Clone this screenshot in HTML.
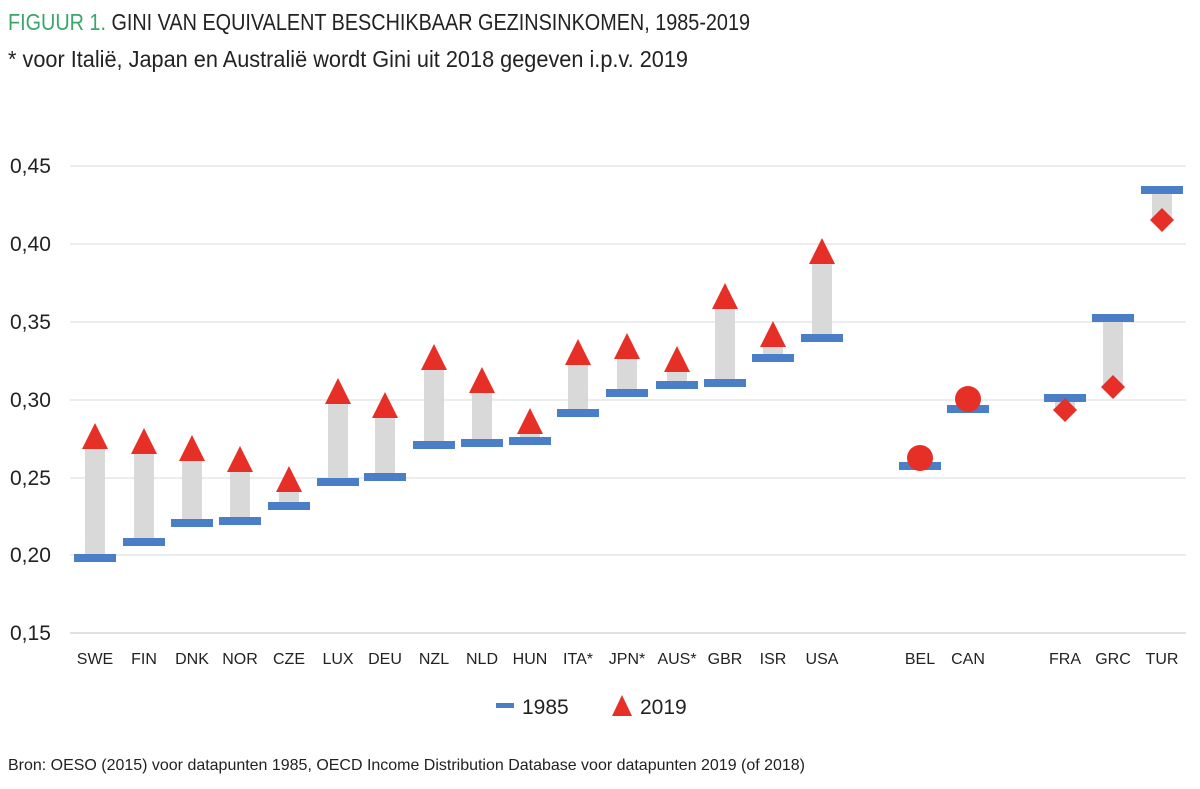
<!DOCTYPE html>
<html><head><meta charset="utf-8"><style>
body{margin:0;background:#fff;}
text{font-family:"Liberation Sans Narrow","Liberation Sans",sans-serif;}
</style></head><body>
<svg width="1200" height="784" xmlns="http://www.w3.org/2000/svg">
<text x="8" y="30" font-size="23" fill="#222" textLength="742" lengthAdjust="spacingAndGlyphs"><tspan fill="#3aa66b">FIGUUR 1.</tspan> GINI VAN EQUIVALENT BESCHIKBAAR GEZINSINKOMEN, 1985-2019</text>
<text x="8" y="67" font-size="23" fill="#222" textLength="680" lengthAdjust="spacingAndGlyphs">* voor Italië, Japan en Australië wordt Gini uit 2018 gegeven i.p.v. 2019</text>
<g stroke="#d9d9d9" stroke-width="1">
<line x1="70" x2="1186" y1="166" y2="166"/><line x1="70" x2="1186" y1="244" y2="244"/>
<line x1="70" x2="1186" y1="322" y2="322"/><line x1="70" x2="1186" y1="400" y2="400"/>
<line x1="70" x2="1186" y1="478" y2="478"/><line x1="70" x2="1186" y1="555" y2="555"/>
</g>
<line x1="70" x2="1186" y1="633" y2="633" stroke="#bfbfbf"/>
<g font-size="21" fill="#222">
<text x="10" y="173">0,45</text><text x="10" y="251">0,40</text><text x="10" y="329">0,35</text>
<text x="10" y="407">0,30</text><text x="10" y="485">0,25</text><text x="10" y="562">0,20</text><text x="10" y="640">0,15</text>
</g>
<g fill="#d9d9d9">
<rect x="85" y="448" width="20" height="110"/><rect x="134" y="453" width="20" height="89"/>
<rect x="182" y="460" width="20" height="63"/><rect x="230" y="471" width="20" height="50"/>
<rect x="279" y="491" width="20" height="15"/><rect x="328" y="403" width="20" height="79"/>
<rect x="375" y="417" width="20" height="60"/><rect x="424" y="369" width="20" height="76"/>
<rect x="472" y="392" width="20" height="51"/><rect x="520" y="433" width="20" height="8"/>
<rect x="568" y="364" width="20" height="49"/><rect x="617" y="358" width="20" height="35"/>
<rect x="667" y="371" width="20" height="14"/><rect x="715" y="308" width="20" height="75"/>
<rect x="763" y="346" width="20" height="12"/><rect x="812" y="263" width="20" height="75"/>
<rect x="1055" y="398" width="20" height="12"/><rect x="1103" y="318" width="20" height="69"/>
<rect x="1152" y="190" width="20" height="30"/>
</g>
<g fill="#4a7fc8">
<rect x="74" y="554" width="42" height="8"/><rect x="123" y="538" width="42" height="8"/>
<rect x="171" y="519" width="42" height="8"/><rect x="219" y="517" width="42" height="8"/>
<rect x="268" y="502" width="42" height="8"/><rect x="317" y="478" width="42" height="8"/>
<rect x="364" y="473" width="42" height="8"/><rect x="413" y="441" width="42" height="8"/>
<rect x="461" y="439" width="42" height="8"/><rect x="509" y="437" width="42" height="8"/>
<rect x="557" y="409" width="42" height="8"/><rect x="606" y="389" width="42" height="8"/>
<rect x="656" y="381" width="42" height="8"/><rect x="704" y="379" width="42" height="8"/>
<rect x="752" y="354" width="42" height="8"/><rect x="801" y="334" width="42" height="8"/>
<rect x="899" y="462" width="42" height="8"/><rect x="947" y="405" width="42" height="8"/>
<rect x="1044" y="394" width="42" height="8"/><rect x="1092" y="314" width="42" height="8"/>
<rect x="1141" y="186" width="42" height="8"/>
</g>
<g fill="#e63027">
<polygon points="95,423 82,449 108,449"/><polygon points="144,428 131,454 157,454"/>
<polygon points="192,435 179,461 205,461"/><polygon points="240,446 227,472 253,472"/>
<polygon points="289,466 276,492 302,492"/><polygon points="338,378 325,404 351,404"/>
<polygon points="385,392 372,418 398,418"/><polygon points="434,344 421,370 447,370"/>
<polygon points="482,367 469,393 495,393"/><polygon points="530,408 517,434 543,434"/>
<polygon points="578,339 565,365 591,365"/><polygon points="627,333 614,359 640,359"/>
<polygon points="677,346 664,372 690,372"/><polygon points="725,283 712,309 738,309"/>
<polygon points="773,321 760,347 786,347"/><polygon points="822,238 809,264 835,264"/>
<circle cx="920" cy="458" r="13"/><circle cx="968" cy="399" r="13"/>
<polygon points="1065,398 1077,410 1065,422 1053,410"/>
<polygon points="1113,375 1125,387 1113,399 1101,387"/>
<polygon points="1162,208 1174,220 1162,232 1150,220"/>
</g>
<g font-size="16" fill="#222" text-anchor="middle">
<text x="95" y="664">SWE</text><text x="144" y="664">FIN</text><text x="192" y="664">DNK</text>
<text x="240" y="664">NOR</text><text x="289" y="664">CZE</text><text x="338" y="664">LUX</text>
<text x="385" y="664">DEU</text><text x="434" y="664">NZL</text><text x="482" y="664">NLD</text>
<text x="530" y="664">HUN</text><text x="578" y="664">ITA*</text><text x="627" y="664">JPN*</text>
<text x="677" y="664">AUS*</text><text x="725" y="664">GBR</text><text x="773" y="664">ISR</text>
<text x="822" y="664">USA</text><text x="920" y="664">BEL</text><text x="968" y="664">CAN</text>
<text x="1065" y="664">FRA</text><text x="1113" y="664">GRC</text><text x="1162" y="664">TUR</text>
</g>
<rect x="496" y="703" width="18" height="5" fill="#4a7fc8"/>
<text x="522" y="714" font-size="21" fill="#222">1985</text>
<polygon points="622,695 612,716 632,716" fill="#e63027"/>
<text x="640" y="714" font-size="21" fill="#222">2019</text>
<text x="8" y="770" font-size="16" fill="#222" textLength="797" lengthAdjust="spacingAndGlyphs">Bron: OESO (2015) voor datapunten 1985, OECD Income Distribution Database voor datapunten 2019 (of 2018)</text>
</svg>
</body></html>
